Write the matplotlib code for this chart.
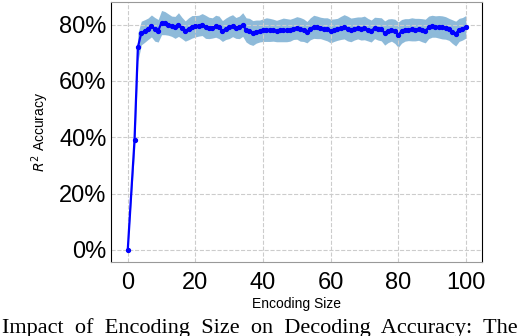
import matplotlib.pyplot as plt
from matplotlib.ticker import PercentFormatter

# encoding sizes (no point at 1)
sizes = [0] + list(range(2, 101))

# mean R^2 accuracy in percent
acc = [0, 39, 72, 77, 77.7, 78.5, 79.5, 78.3, 77.8, 80.7,
       80.5, 80, 79.4, 79, 80, 78.8, 77.7, 78.5, 79.2, 79.4,
       79.6, 80, 79.2, 78.8, 78.8, 79.4, 79, 77.7, 78.5, 79,
       79.6, 78.8, 79, 80, 78.1, 77.6, 77, 77.5, 77.7, 78,
       78.2, 78.1, 78, 77.7, 77.9, 78.1, 78, 78, 78.5, 78.8,
       78.3, 78, 77.3, 78.5, 79.2, 79, 78.8, 78.5, 78.3, 77.7,
       78, 78.3, 78.8, 79.2, 78.6, 78.1, 78.5, 78.8, 78.6, 78.8,
       78.2, 77.7, 78.8, 78.5, 78.3, 77, 77.8, 78.1, 77.6, 76.4,
       77.6, 78.1, 78.2, 78.3, 78.2, 78.3, 78, 77.7, 79, 79.4,
       79.3, 79.2, 79, 78.8, 78.3, 77.5, 76.8, 78.1, 78.5, 79.2]

# spread of the shaded band
spread = [0, 4, 5, 4.2, 4.0, 3.8, 3.9, 4.2, 4.0, 4.3,
          4.1, 3.8, 3.6, 3.9, 4.2, 3.8, 3.6, 3.9, 4.0, 3.8,
          3.7, 3.9, 4.1, 3.8, 3.6, 3.9, 4.0, 3.7, 3.8, 4.0,
          3.9, 3.7, 4.0, 4.2, 4.3, 4.6, 4.4, 4.1, 3.9, 4.0,
          4.2, 4.1, 3.9, 3.8, 4.0, 4.2, 4.1, 3.9, 3.8, 4.0,
          4.2, 4.0, 3.8, 3.9, 4.1, 4.0, 3.8, 3.9, 4.1, 4.2,
          4.0, 3.9, 4.1, 4.3, 4.4, 4.2, 4.0, 3.9, 4.1, 4.2,
          4.0, 3.9, 3.8, 4.0, 4.1, 4.3, 4.2, 4.0, 4.3, 4.5,
          4.2, 4.0, 3.9, 4.1, 4.0, 3.9, 4.1, 4.2, 4.0, 3.9,
          3.8, 4.0, 4.1, 4.0, 3.9, 4.2, 4.4, 4.1, 4.0, 4.0]

lower = [a - s for a, s in zip(acc, spread)]
upper = [a + s for a, s in zip(acc, spread)]

plt.rcParams['font.family'] = ['Liberation Sans', 'DejaVu Sans']

fig = plt.figure(figsize=(5.18, 3.36), dpi=100)
ax = fig.add_axes([0.214, 0.220, 0.716, 0.774])

ax.fill_between(sizes, lower, upper, color='tab:blue', alpha=0.5, linewidth=0)
ax.plot(sizes, acc, color='#0000ff', linewidth=1.6, marker='o', markersize=2.8)

ax.set_xlim(-5, 104.7)
ax.set_ylim(-4.3, 88)
ax.set_xticks([0, 20, 40, 60, 80, 100])
ax.set_yticks([0, 20, 40, 60, 80])
ax.yaxis.set_major_formatter(PercentFormatter(decimals=0))
ax.tick_params(axis='both', labelsize=17, length=0)
ax.tick_params(axis='x', pad=7)
ax.tick_params(axis='y', pad=3)
ax.grid(True, linestyle='--', color='#cccccc', linewidth=0.8)

ax.spines['left'].set_color('black')
ax.spines['right'].set_color('black')
ax.spines['top'].set_color('#999999')
ax.spines['bottom'].set_color('#999999')

ax.set_xlabel('Encoding Size', fontsize=10, labelpad=2)
ax.set_ylabel('$R^2$ Accuracy', fontsize=10, labelpad=6)

fig.text(0.004, 0.008, 'Impact  of  Encoding  Size  on  Decoding  Accuracy:  The',
         family='Liberation Serif', fontsize=16, va='baseline', ha='left')

fig.savefig('out.png', dpi=100)
